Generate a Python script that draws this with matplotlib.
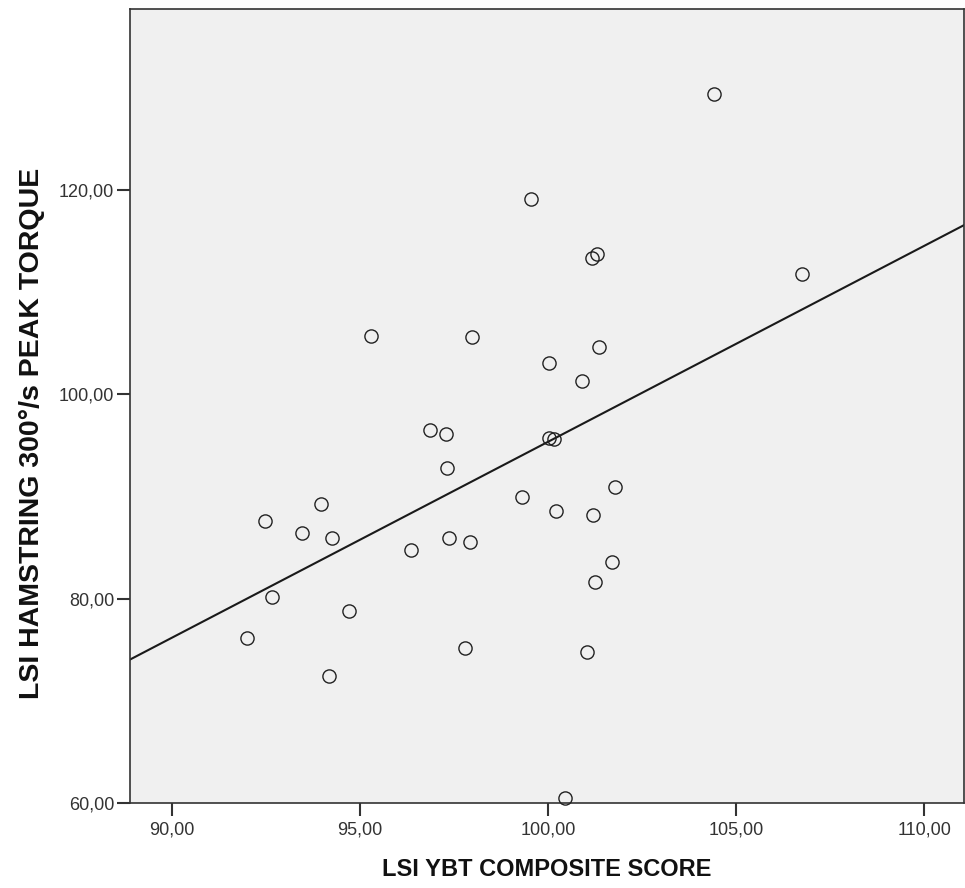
import numpy as np
import matplotlib
matplotlib.use("Agg")
import matplotlib.pyplot as plt
from matplotlib.ticker import FuncFormatter

# LSI YBT composite score (x) and LSI hamstring 300°/s peak torque (y)
ybt = [104.41, 99.55, 101.17, 101.30, 106.74, 95.30, 97.98, 101.36, 100.01, 100.91,
       100.01, 100.16, 96.86, 97.29, 97.31, 99.30, 93.97, 92.47, 93.47, 94.27,
       96.36, 97.37, 97.92, 92.67, 94.72, 92.00, 97.79, 94.17, 100.21, 101.20,
       101.79, 101.71, 101.25, 101.04, 100.45]
hamstring = [129.4, 119.13, 113.35, 113.74, 111.76, 105.72, 105.62, 104.61, 103.04, 101.34,
             95.70, 95.63, 96.55, 96.09, 92.77, 89.99, 89.24, 87.61, 86.43, 85.91,
             84.74, 85.94, 85.55, 80.14, 78.80, 76.18, 75.20, 72.40, 88.59, 88.19,
             90.93, 83.59, 81.64, 74.78, 60.49]

x_ticks = [90, 95, 100, 105, 110]
y_ticks = [60, 80, 100, 120]
x_label = "LSI YBT COMPOSITE SCORE"
y_label = "LSI HAMSTRING 300°/s PEAK TORQUE"

plt.rcParams['font.family'] = ['Liberation Sans', 'DejaVu Sans']

fig = plt.figure(figsize=(9.65, 8.88), dpi=100)
ax = fig.add_axes([130/965, 1-803/888, (964-130)/965, (803-9)/888])
ax.set_facecolor('#F0F0F0')

xlim = (88.89, 111.05)
ylim = (60.0, 137.7)

# fit line
slope, intercept = np.polyfit(ybt, hamstring, 1)
xs = np.array(xlim)
ax.plot(xs, slope*xs + intercept, color='#1a1a1a', lw=1.5, zorder=2)

ax.plot(ybt, hamstring, linestyle='none', marker='o', markersize=9.5,
        markerfacecolor='none', markeredgecolor='#222222', markeredgewidth=1.0,
        zorder=3, clip_on=False)

ax.set_xlim(*xlim)
ax.set_ylim(*ylim)
ax.set_xticks(x_ticks)
ax.set_yticks(y_ticks)
fmt = FuncFormatter(lambda v, p: f"{v:.2f}".replace('.', ','))
ax.xaxis.set_major_formatter(fmt)
ax.yaxis.set_major_formatter(fmt)

for s in ax.spines.values():
    s.set_color('#333333')
    s.set_linewidth(1.2)

ax.tick_params(axis='both', direction='out', length=9.5, width=1.5,
               color='#333333', labelcolor='#333333', labelsize=13)
ax.tick_params(axis='x', pad=4)
ax.tick_params(axis='y', pad=2)

ax.set_xlabel(x_label, fontsize=17, fontweight='bold', color='#111111', labelpad=14)
ax.set_ylabel(y_label, fontsize=20.5, fontweight='bold', color='#111111')
ax.yaxis.set_label_coords(-0.102, 0.466)

fig.savefig('out.png', dpi=100, facecolor='white')
